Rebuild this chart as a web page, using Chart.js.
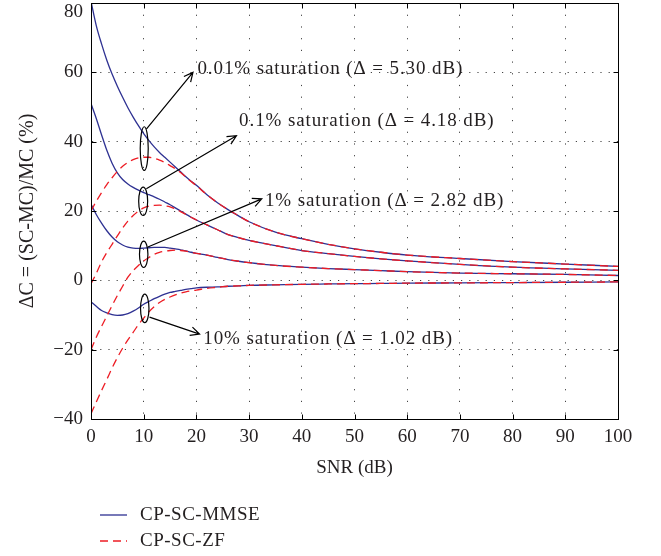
<!DOCTYPE html>
<html>
<head>
<meta charset="utf-8">
<script src="https://cdn.jsdelivr.net/npm/chart.js@4.4.1/dist/chart.umd.min.js"></script>
<style>
  html, body { margin: 0; padding: 0; background: #fff; }
  .chart-box { position: relative; width: 661px; height: 556px; }
</style>
</head>
<body>
<div class="chart-box"><canvas id="snrChart"></canvas></div>
<script>
// SNR (dB) sample points
const snr = [0, 1, 2, 3, 4, 5, 6, 7, 8, 9, 10, 11, 12, 13, 14, 15, 16, 17, 18, 19, 20,
  22, 24, 26, 28, 30, 35, 40, 45, 50, 55, 60, 70, 80, 90, 100];

// CP-SC-MMSE curves, one per saturation level
const mmse001 = [80.5, 73.5, 68.2, 63.5, 59.5, 56, 52.8, 49.8, 47.1, 44.6, 42.3, 40.3, 38.5, 36.9, 35.5, 34.1, 32.7, 31.3, 29.9, 28.6, 27.4,
  24.7, 22.4, 20.4, 18.6, 16.9, 13.9, 12.0, 10.4, 9.1, 8.1, 7.3, 6.3, 5.4, 4.7, 4.0];
const mmse01 = [51, 46.7, 42.0, 37.5, 33.8, 31.0, 29.1, 27.8, 26.8, 26.0, 25.3, 24.7, 24.1, 23.4, 22.6, 21.8, 20.9, 20.0, 19.1, 18.2, 17.4,
  16.0, 14.6, 13.2, 12.3, 11.5, 10.0, 8.6, 7.7, 6.9, 6.2, 5.6, 4.6, 3.8, 3.3, 2.9];
const mmse1 = [22, 19.0, 16.5, 14.3, 12.5, 11.1, 10.2, 9.6, 9.3, 9.2, 9.3, 9.4, 9.5, 9.5, 9.5, 9.3, 9.1, 8.8, 8.5, 8.1, 7.8,
  7.3, 6.6, 6.0, 5.5, 5.1, 4.3, 3.8, 3.4, 3.1, 2.8, 2.5, 2.1, 1.9, 1.7, 1.4];
const mmse10 = [-6.2, -7.5, -8.7, -9.4, -9.9, -10.1, -10.0, -9.6, -8.9, -8.0, -6.9, -6.1, -5.3, -4.6, -4.0, -3.5, -3.2, -2.9, -2.6, -2.4, -2.2,
  -2.0, -1.9, -1.7, -1.6, -1.45, -1.3, -1.15, -1.05, -0.95, -0.9, -0.8, -0.75, -0.65, -0.55, -0.45];

// CP-SC-ZF curves
const zf001 = [20, 22.8, 25.3, 27.6, 29.6, 31.4, 32.9, 34.0, 34.8, 35.3, 35.5, 35.5, 35.2, 34.7, 34.0, 33.1, 32.2, 31.1, 29.8, 28.5, 27.3,
  24.7, 22.4, 20.4, 18.6, 16.9, 13.9, 12.0, 10.4, 9.1, 8.1, 7.3, 6.3, 5.4, 4.7, 4.0];
const zf01 = [-1, 2, 5.3, 8.0, 10.4, 12.8, 15.1, 17.1, 18.7, 20.0, 20.9, 21.4, 21.6, 21.7, 21.5, 21.2, 20.6, 19.8, 19.0, 18.2, 17.4,
  16.0, 14.6, 13.2, 12.3, 11.5, 10.0, 8.6, 7.7, 6.9, 6.2, 5.6, 4.6, 3.8, 3.3, 2.9];
const zf1 = [-20, -16.4, -13.3, -10.3, -7.3, -4.4, -1.7, 0.9, 2.8, 4.3, 5.6, 6.6, 7.5, 8.1, 8.4, 8.6, 8.7, 8.6, 8.4, 8.1, 7.8,
  7.3, 6.6, 6.0, 5.5, 5.1, 4.3, 3.8, 3.4, 3.1, 2.8, 2.5, 2.1, 1.9, 1.7, 1.4];
const zf10 = [-38.5, -35.1, -31.8, -28.6, -25.3, -22.3, -19.6, -17.2, -15.0, -12.8, -10.9, -9.1, -7.6, -6.4, -5.5, -4.8, -4.2, -3.7, -3.3, -3.0, -2.8,
  -2.3, -2.0, -1.7, -1.6, -1.45, -1.3, -1.15, -1.05, -0.95, -0.9, -0.8, -0.75, -0.65, -0.55, -0.45];

const yTicks = [-40, -20, 0, 20, 40, 60, 80];
const yTickLabels = ['\u221240', '\u221220', '0', '20', '40', '60', '80'];

// annotations, in data units: ellipse [x, y, rx, ry], arrow [x0, y0, x1, y1], note [text, x, y]
const ellipses = [[10.1, 38.0, 0.76, 6.3], [9.9, 22.8, 0.85, 4.1], [10.0, 7.5, 0.8, 3.8], [10.2, -8.1, 0.8, 4.1]];
const arrows = [[10.5, 43.6, 19.35, 60], [10.5, 26.4, 27.6, 41.7], [10.8, 9.6, 32.4, 23.5], [11.1, -10.6, 20.6, -15.5]];
const notes = [
  ['0.01% saturation (\u0394 = 5.30 dB)', 20.2, 60.9],
  ['0.1% saturation (\u0394 = 4.18 dB)', 28.1, 46.0],
  ['1% saturation (\u0394 = 2.82 dB)', 33.0, 23.0],
  ['10% saturation (\u0394 = 1.02 dB)', 21.3, -16.8]
];

const serif = '"Liberation Serif", "Times New Roman", serif';
const textColor = '#231f20';
const blue = '#2e3192';
const red = '#ed1c24';

const makeLine = (values, label, color, dash, order) => ({
  label: label,
  data: snr.map((s, i) => ({ x: s, y: values[i] })),
  borderColor: color,
  borderWidth: 1.3,
  borderDash: dash,
  pointRadius: 0,
  cubicInterpolationMode: 'monotone',
  fill: false,
  order: order
});

const datasets = [
  ...[mmse001, mmse01, mmse1, mmse10].map(v => makeLine(v, 'CP-SC-MMSE', blue, [], 1)),
  ...[zf001, zf01, zf1, zf10].map(v => makeLine(v, 'CP-SC-ZF', red, [8, 5], 0))
];

// arrows, ellipses and notes inside the plot
const annotations = {
  id: 'annotations',
  afterDatasetsDraw(chart) {
    const { ctx, scales: { x, y } } = chart;
    ctx.save();
    ctx.strokeStyle = '#000';
    ctx.lineWidth = 1.2;
    ellipses.forEach(([cx, cy, rx, ry]) => {
      const px = x.getPixelForValue(cx);
      const py = y.getPixelForValue(cy);
      ctx.beginPath();
      ctx.ellipse(px, py, x.getPixelForValue(cx + rx) - px, py - y.getPixelForValue(cy + ry), 0, 0, Math.PI * 2);
      ctx.stroke();
    });
    arrows.forEach(([x0, y0, x1, y1]) => {
      const ax = x.getPixelForValue(x0), ay = y.getPixelForValue(y0);
      const bx = x.getPixelForValue(x1), by = y.getPixelForValue(y1);
      const ang = Math.atan2(by - ay, bx - ax);
      ctx.beginPath();
      ctx.moveTo(ax, ay);
      ctx.lineTo(bx, by);
      ctx.moveTo(bx - 10 * Math.cos(ang - 0.45), by - 10 * Math.sin(ang - 0.45));
      ctx.lineTo(bx, by);
      ctx.lineTo(bx - 10 * Math.cos(ang + 0.45), by - 10 * Math.sin(ang + 0.45));
      ctx.stroke();
    });
    ctx.fillStyle = textColor;
    ctx.font = '19px ' + serif;
    ctx.letterSpacing = '0.9px';
    ctx.textAlign = 'left';
    ctx.textBaseline = 'middle';
    notes.forEach(([text, tx, ty]) => {
      ctx.fillText(text, x.getPixelForValue(tx), y.getPixelForValue(ty));
    });
    ctx.restore();
  }
};

// box frame, inward ticks, top y label and the legend under the axes
const frame = {
  id: 'frame',
  afterDraw(chart) {
    const { ctx, chartArea: a, scales: { x, y } } = chart;
    const l = Math.round(a.left) + 0.5, r = Math.round(a.right) + 0.5;
    const t = Math.round(a.top) + 0.5, b = Math.round(a.bottom) + 0.5;
    ctx.save();
    ctx.strokeStyle = '#000';
    ctx.lineWidth = 1;
    ctx.strokeRect(l, t, r - l, b - t);
    ctx.beginPath();
    x.ticks.forEach(tk => {
      const px = Math.round(x.getPixelForValue(tk.value)) + 0.5;
      ctx.moveTo(px, b); ctx.lineTo(px, b - 5);
      ctx.moveTo(px, t); ctx.lineTo(px, t + 5);
    });
    y.ticks.forEach(tk => {
      const py = Math.round(y.getPixelForValue(tk.value)) + 0.5;
      ctx.moveTo(l, py); ctx.lineTo(l + 5, py);
      ctx.moveTo(r, py); ctx.lineTo(r - 5, py);
    });
    ctx.stroke();

    ctx.fillStyle = textColor;
    ctx.font = '19px ' + serif;
    ctx.textAlign = 'right';
    ctx.textBaseline = 'middle';
    ctx.fillText(yTickLabels[yTickLabels.length - 1], a.left - 8, a.top + 9);

    const seen = [];
    chart.data.datasets.forEach(ds => {
      if (!seen.find(s => s.label === ds.label)) seen.push(ds);
    });
    ctx.letterSpacing = '0.5px';
    seen.forEach((ds, i) => {
      const ly = 515 + i * 26;
      ctx.strokeStyle = ds.borderColor;
      ctx.lineWidth = 1.3;
      ctx.setLineDash(ds.borderDash);
      ctx.beginPath();
      ctx.moveTo(100, ly);
      ctx.lineTo(127, ly);
      ctx.stroke();
      ctx.setLineDash([]);
      ctx.textAlign = 'left';
      ctx.fillText(ds.label, 140, ly);
    });
    ctx.restore();
  }
};

new Chart(document.getElementById('snrChart'), {
  type: 'line',
  data: { datasets: datasets },
  options: {
    responsive: true,
    maintainAspectRatio: false,
    devicePixelRatio: 1,
    animation: false,
    layout: { padding: { top: 3, right: 43, bottom: 77, left: 0 } },
    plugins: { legend: { display: false }, tooltip: { enabled: false } },
    scales: {
      x: {
        type: 'linear',
        min: 0,
        max: 100,
        ticks: { stepSize: 10, color: textColor, font: { family: serif, size: 19 }, padding: 7, maxRotation: 0, autoSkip: false },
        grid: { color: '#444', lineWidth: 1, drawTicks: false },
        border: { display: true, color: '#000', width: 1, dash: [1.2, 10.5] },
        title: { display: true, text: 'SNR (dB)', color: textColor, font: { family: serif, size: 19 }, padding: { top: 0, bottom: 0 } },
        afterFit: s => { s.height = 60; s.paddingLeft = 0; s.paddingRight = 0; }
      },
      y: {
        type: 'linear',
        min: yTicks[0],
        max: yTicks[yTicks.length - 1],
        ticks: {
          stepSize: 20,
          color: textColor,
          font: { family: serif, size: 19 },
          padding: 8,
          callback: v => v === yTicks[yTicks.length - 1] ? '' : yTickLabels[yTicks.indexOf(v)]
        },
        grid: { color: '#444', lineWidth: 1, drawTicks: false },
        border: { display: true, color: '#000', width: 1, dash: [1.2, 7] },
        title: { display: true, text: '\u0394C = (SC-MC)/MC (%)', color: textColor, font: { family: serif, size: 20 }, padding: { top: 16, bottom: 0 } },
        afterFit: s => { s.width = 91; s.paddingTop = 0; s.paddingBottom = 0; }
      }
    }
  },
  plugins: [annotations, frame]
});
</script>
</body>
</html>
